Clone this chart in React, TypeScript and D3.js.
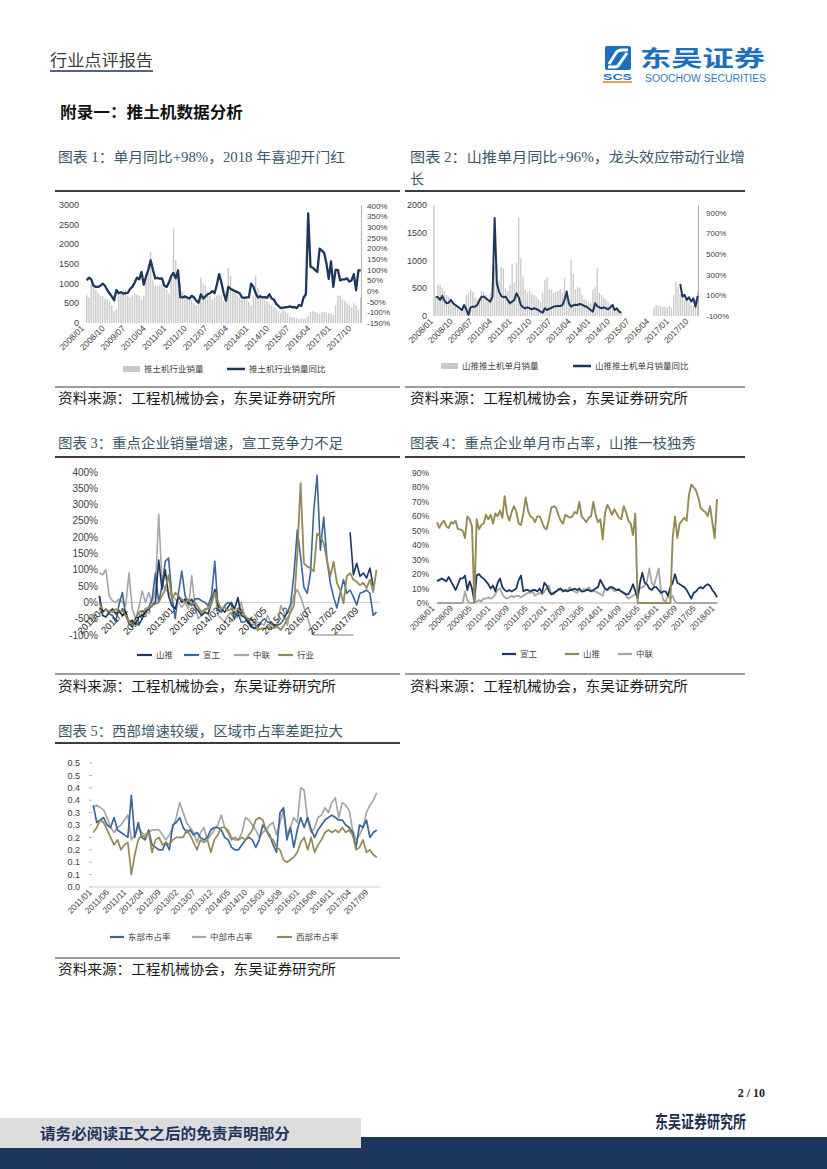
import React from "react";
import * as d3 from "d3";

const SERIF = "'Liberation Serif','Noto Sans CJK SC',serif";
const SANS = "'Liberation Sans','Noto Sans CJK SC',sans-serif";
const CJK = "'Noto Sans CJK SC','Liberation Sans',sans-serif";

function monthSeq(y0: number, m0: number, n: number): string[] {
  const out: string[] = [];
  for (let k = 0; k < n; k++) {
    const mm = ((m0 - 1 + k) % 12) + 1;
    const yy = y0 + Math.floor((m0 - 1 + k) / 12);
    out.push(`${yy}/${String(mm).padStart(2, "0")}`);
  }
  return out;
}

// ---------------- categories ----------------
const c1Months = monthSeq(2008, 1, 121);
const c2Months = monthSeq(2008, 1, 121);
const c3Months = monthSeq(2011, 1, 85);
const c4Months = monthSeq(2008, 1, 121);
const c5Months = monthSeq(2011, 1, 83);

// ---------------- tick labels ----------------
const c12XLabels = ["2008/01", "2008/10", "2009/07", "2010/04", "2011/01", "2011/10", "2012/07", "2013/04", "2014/01", "2014/10", "2015/07", "2016/04", "2017/01", "2017/10"];
const c3XLabels = ["2011/04", "2011/11", "2012/06", "2013/01", "2013/08", "2014/03", "2014/10", "2015/05", "2015/12", "2016/07", "2017/02", "2017/09"];
const c4XLabels = ["2008/01", "2008/09", "2009/05", "2010/01", "2010/09", "2011/05", "2012/01", "2012/09", "2013/05", "2014/01", "2014/09", "2015/05", "2016/01", "2016/09", "2017/05", "2018/01"];
const c5XLabels = ["2011/01", "2011/06", "2011/11", "2012/04", "2012/09", "2013/02", "2013/07", "2013/12", "2014/05", "2014/10", "2015/03", "2015/08", "2016/01", "2016/06", "2016/11", "2017/04", "2017/09"];
const c1LeftTicks = [0, 500, 1000, 1500, 2000, 2500, 3000];
const c1RightTicks = [-150, -100, -50, 0, 50, 100, 150, 200, 250, 300, 350, 400];
const c2LeftTicks = [0, 500, 1000, 1500, 2000];
const c2RightTicks = [-100, 100, 300, 500, 700, 900];
const c3Ticks = [-100, -50, 0, 50, 100, 150, 200, 250, 300, 350, 400];
const c4Ticks = [0, 10, 20, 30, 40, 50, 60, 70, 80, 90];
const c5Ticks = [0, 0.05, 0.1, 0.15, 0.2, 0.25, 0.3, 0.35, 0.4, 0.45, 0.5];
const c5TickText = ["0.0", "0.1", "0.1", "0.2", "0.2", "0.3", "0.3", "0.4", "0.4", "0.5", "0.5"];

// ---------------- chart 1 data ----------------
const c1Volume = [
  720, 650, 1000, 900, 850, 750, 700, 680, 620, 600, 550, 450,
  300, 350, 700, 800, 850, 850, 700, 650, 700, 750, 720, 700,
  600, 700, 1200, 1500, 1800, 1100, 950, 950, 950, 1000, 900, 850,
  750, 1200, 2400, 1600, 1200, 1000, 800, 700, 650, 650, 600, 500,
  450, 500, 1150, 1000, 950, 800, 700, 600, 650, 700, 700, 700,
  550, 800, 1400, 1200, 900, 800, 700, 650, 600, 650, 600, 550,
  450, 700, 1200, 900, 750, 650, 600, 550, 500, 450, 400, 350,
  300, 250, 350, 300, 250, 150, 150, 130, 120, 100, 110, 100,
  120, 180, 280, 300, 280, 250, 230, 280, 290, 270, 250, 240,
  200, 450, 700, 700, 600, 550, 500, 450, 400, 500, 450, 350,
  650,
];
const c1Yoy = [
  51, 63, 55, 25, 20, 20, 25, 35, 25, 5, -10, -25,
  -43, 5, -10, -5, -12, -10, -8, 10, 20, 40, 63, 55,
  90, 30, 70, 100, 145, 100, 60, 62, 58, 60, 25, 20,
  40, 70, 85, 60, 97, -28, -30, -25, -30, -35, -22, -30,
  -45, -55, -15, -35, -25, -15, -10, 0, -10, 30, 80, 40,
  -10, -45, 20, 10, 5, 0, -5, -10, -30, -32, -30, -30,
  35, 20, -10, -30, -25, -30, -28, -32, -15, -35, -40, -60,
  -70, -80, -78, -76, -75, -72, -76, -75, -80, -65, -70, -30,
  -15, 365, 115, 110, 100, 90, 200, 190, 180, 130, 58, 140,
  20, 100, 100, 50, 55, 55, 60, 45, 50, 80, 4, 97,
  98,
];

// ---------------- chart 2 data ----------------
const c2Volume: (number | null)[] = [
  350, 560, 560, 500, 460, 380, 350, 250, 200, 180, 130, 100,
  120, 150, 380, 420, 470, 430, 330, 300, 330, 450, 430, 380,
  330, 420, 600, 900, 950, 640, 880, 860, 500, 450, 560, 940,
  600, 950, 1780, 1040, 710, 470, 420, 450, 400, 380, 350, 300,
  250, 420, 650, 700, 480, 470, 420, 430, 450, 480, 420, 680,
  450, 300, 1020, 760, 480, 520, 500, 380, 300, 280, 250, 230,
  480, 520, 860, 420, 380, 330, 300, 250, 200, 170, 150, 120,
  100, 80, null, null, null, null, null, null, null, null, null, null,
  null, null, null, null, 150, 200, 170, 180, 160, 170, 155, 180,
  150, 380, 620, 520, 400, 350, 300, 280, 250, 200, 180, 300, 450,
];
const c2Yoy: (number | null)[] = [
  88, 82, 56, 95, 49, 23, 30, 56, 23, 7, -9, -25,
  -42, 7, -35, -90, -16, -9, -9, 7, 49, 88, 88, 72,
  56, 40, 88, 851, 218, 137, 95, 82, 88, 56, 23, 40,
  56, 121, 82, 7, -16, -25, -16, -25, -35, -25, -32, -42,
  -58, -68, -25, -42, -29, -22, -9, -6, -3, -3, 4, 56,
  137, 23, -9, 4, 10, 7, 17, 10, -3, -9, -25, -42,
  -58, 23, -3, -16, -25, -16, -25, -35, -16, 7, -42, -25,
  -58, -68, null, null, null, null, null, null, null, null, null, null,
  null, null, null, null, null, null, null, null, null, null, null, null,
  null, null, null, null, 212, 88, 105, 56, 82, 40, 72, -9, 95,
];

// ---------------- chart 3 data (YoY %) ----------------
const c3Shantui: (number | null)[] = [
  20, -40, -45, -30, -20, -35, -25, -40, -30, -60, -55, -65,
  -45, -40, -30, -20, -10, 0, 130, 40, 100, 20, -10, -20,
  20, 0, 10, -5, 10, -15, -25, -40, -30, -35, 0, 40,
  -10, -20, -30, -15, 0, -20, 15, -40, -45, -60, -75, -80,
  -70, -65, null, null, null, null, null, null, null, null, null, null,
  null, null, null, null, null, null, null, null, null, null, null, null,
  null, null, null, null, 215, 85, 120, 80, 90, 75, 105, 50, null,
];
const c3Xuangong: (number | null)[] = [
  20, -30, -20, -35, -40, -60, -5, 30, -40, -65, -75, -60,
  -70, -50, -30, -15, 10, 90, 0, 50, 126, 136, 20, -50,
  30, 96, 20, 0, -10, 10, 12, 5, 0, -10, 20, 126,
  -20, -30, -10, 0, -5, -50, -30, -60, -60, -50, -70, -80,
  -80, -60, -50, -60, -65, -70, -70, -65, -50, -30, -5, 90,
  222, 140, 47, 28, 90, 283, 390, 160, 262, 130, 60, 17,
  -17, 28, 70, 28, 38, 17, -8, 28, 32, 38, 28, -40, -30,
];
const c3Zoomlion: (number | null)[] = [
  90, 85, 100, 20, 5, 0, 10, 0, -10, 90, -20, -50,
  -15, 35, 0, 30, -5, 40, 270, 60, 40, 30, 20, 10,
  0, -15, 0, -20, 82, -10, -50, -40, -30, -10, 10, 30,
  -40, -50, -60, -40, -30, -40, -30, 0, -40, -60, -50, -70,
  -60, -65, -70, -40, -65, -75, -65, -10, -30, -70, -20, 20,
  40, 17, -14, -45, -75, -100, -100, -100, -100, -100, -100, -100,
  -100, -100, -100, -100, -100, -100, null, null, null, null, null, null, null,
];
const c3Industry: (number | null)[] = [
  0, -28, -23, -26, -30, -20, -30, -25, -40, -60, -68, -50,
  -30, -25, -30, -15, -10, -5, 0, 20, 40, 84, 10, 30,
  20, 10, 0, 10, -5, 0, -15, -30, -20, -20, -5, 30,
  0, -20, -15, -25, -20, -30, -25, -30, -40, -50, -50, -60,
  -85, -80, -80, -75, -80, -78, -75, -85, -70, -50, -30, -10,
  150, 366, 120, 110, 105, 95, 212, 202, 182, 130, 79, 125,
  60, 38, -3, 80, 90, 70, 63, 53, 60, 44, 70, 32, 100,
];

// ---------------- chart 4 data (share %) ----------------
const c4Xuangong = [
  15, 16, 17, 16, 15, 18, 15, 12, 9, 13, 17, 17,
  19, 9, 15, 10, 1, 19, 20, 18, 17, 15, 13, 10,
  12, 8, 14, 17, 11, 9, 8, 9, 8, 9, 10, 16,
  19, 8, 9, 9, 8, 9, 9, 8, 10, 7, 14, 12,
  8, 6, 7, 8, 9, 10, 8, 9, 8, 9, 9, 10,
  9, 10, 8, 8, 9, 9, 8, 9, 10, 11, 16, 13,
  10, 9, 11, 11, 10, 9, 9, 8, 7, 6, 6, 9,
  13, 8, 3, 14, 21, 14, 13, 10, 9, 11, 11, 9,
  7, 8, 8, 5, 11, 14, 20, 14, 13, 12, 11, 9,
  6, 3, 7, 8, 10, 11, 10, 12, 13, 12, 9, 7, 4,
];
const c4Shantui = [
  56, 52, 55, 57, 53, 52, 56, 55, 57, 51, 51, 50,
  45, 60, 58, 53, 1, 58, 51, 54, 55, 61, 58, 61,
  55, 62, 60, 64, 59, 74, 62, 57, 63, 67, 63, 55,
  54, 62, 73, 64, 60, 59, 56, 60, 60, 56, 52, 51,
  58, 66, 67, 66, 61, 57, 55, 61, 60, 59, 60, 63,
  62, 70, 60, 58, 56, 59, 60, 70, 61, 56, 58, 44,
  62, 68, 65, 61, 65, 62, 59, 58, 67, 63, 57, 55,
  47, 62, 0, 0, 0, 0, 0, 0, 0, 0, 0, 0,
  0, 0, 0, 0, 0, 45, 60, 45, 55, 57, 59, 57,
  75, 82, 80, 78, 73, 66, 64, 63, 60, 67, 56, 45, 72,
];
const c4Zoomlion = [
  0, 0, 0, 0, 0, 0, 0, 0, 0, 0, 0, 0,
  8, 2, 0, 0, 0, 1, 2, 1, 3, 3, 4, 3,
  4, 6, 9, 10, 6, 4, 3, 4, 5, 4, 5, 5,
  4, 5, 6, 7, 7, 8, 5, 6, 7, 6, 8, 10,
  12, 6, 6, 8, 10, 9, 9, 8, 9, 11, 9, 8,
  7, 9, 8, 10, 9, 11, 9, 8, 8, 7, 6, 5,
  10, 9, 10, 10, 8, 9, 10, 8, 7, 5, 3, 4,
  5, 6, 8, 10, 11, 12, 15, 24, 14, 12, 18, 24,
  8, 2, 1, 5, 3, 5, 1, 0, 0, 0, 0, 0,
  0, 0, 0, 0, 0, 0, 0, 0, 0, 0, 0, 0, 0,
];

// ---------------- chart 5 data (regional share) ----------------
const c5East = [
  0.33, 0.26, 0.27, 0.28, 0.25, 0.24, 0.28, 0.23, 0.22, 0.21, 0.20, 0.37,
  0.20, 0.26, 0.20, 0.19, 0.23, 0.17, 0.16, 0.15, 0.15, 0.18, 0.15, 0.25,
  0.26, 0.28, 0.24, 0.22, 0.23, 0.21, 0.22, 0.20, 0.19, 0.20, 0.23, 0.24,
  0.24, 0.23, 0.20, 0.19, 0.16, 0.15, 0.15, 0.17, 0.19, 0.20, 0.19, 0.16,
  0.19, 0.25, 0.23, 0.21, 0.17, 0.14, 0.30, 0.32, 0.19, 0.24, 0.16, 0.23,
  0.28, 0.24, 0.28, 0.23, 0.20, 0.23, 0.25, 0.27, 0.28, 0.29, 0.28, 0.27,
  0.27, 0.25, 0.24, 0.22, 0.16, 0.25, 0.24, 0.27, 0.20, 0.22, 0.23,
];
const c5Central = [
  0.32, 0.33, 0.32, 0.31, 0.28, 0.24, 0.22, 0.24, 0.25, 0.27, 0.29, 0.19,
  0.21, 0.24, 0.22, 0.21, 0.22, 0.23, 0.23, 0.23, 0.21, 0.19, 0.21, 0.24,
  0.28, 0.34, 0.30, 0.26, 0.24, 0.22, 0.18, 0.22, 0.24, 0.19, 0.21, 0.23,
  0.25, 0.29, 0.24, 0.23, 0.20, 0.19, 0.19, 0.22, 0.28, 0.27, 0.25, 0.23,
  0.20, 0.22, 0.23, 0.25, 0.26, 0.21, 0.26, 0.31, 0.21, 0.24, 0.28, 0.26,
  0.40, 0.39, 0.27, 0.22, 0.24, 0.28, 0.29, 0.32, 0.30, 0.34, 0.36, 0.28,
  0.34, 0.33, 0.31, 0.23, 0.19, 0.21, 0.24, 0.30, 0.33, 0.35, 0.38,
];
const c5West = [
  0.22, 0.24, 0.27, 0.26, 0.23, 0.20, 0.17, 0.19, 0.15, 0.17, 0.18, 0.05,
  0.13, 0.19, 0.21, 0.20, 0.22, 0.14, 0.19, 0.20, 0.17, 0.18, 0.17, 0.19,
  0.20, 0.20, 0.20, 0.23, 0.21, 0.18, 0.15, 0.19, 0.18, 0.19, 0.14, 0.19,
  0.21, 0.24, 0.24, 0.22, 0.19, 0.20, 0.19, 0.20, 0.19, 0.21, 0.23, 0.27,
  0.28, 0.27, 0.23, 0.20, 0.19, 0.16, 0.15, 0.11, 0.10, 0.11, 0.12, 0.14,
  0.18, 0.20, 0.15, 0.20, 0.14, 0.17, 0.19, 0.22, 0.23, 0.22, 0.23, 0.22,
  0.24, 0.22, 0.23, 0.21, 0.15, 0.16, 0.19, 0.14, 0.15, 0.13, 0.12,
];

// ---------------- colours ----------------
const NAVY = "#1C375E";
const BLUE = "#3A6698";
const GRAY = "#A6A6A6";
const OLIVE = "#958A55";
const BAR = "#C9C9C9";
const TITLE = "#3A5869";
const AXTXT = "#404040";

type Num = number | null;

function linePath(data: Num[], xf: (i: number) => number, yf: (v: number) => number) {
  const gen = d3
    .line<Num>()
    .defined((d) => d != null)
    .x((_d, i) => xf(i))
    .y((d) => yf(d as number));
  return gen(data) || "";
}

function RotLabels(props: { labels: string[]; xOf: (l: string) => number; y: number; dx?: number; size?: number; fill?: string }) {
  const { labels, xOf, y, dx = -2, size = 8.5, fill = AXTXT } = props;
  return (
    <g fontFamily={SANS} fontSize={size} fill={fill}>
      {labels.map((l) => (
        <text key={l} transform={`translate(${xOf(l) + dx},${y}) rotate(-45)`} textAnchor="end">
          {l}
        </text>
      ))}
    </g>
  );
}

function LegendLine(p: { x: number; y: number; color: string; label: string; w?: number; sw?: number }) {
  const w = p.w ?? 16;
  return (
    <g>
      <line x1={p.x} x2={p.x + w} y1={p.y} y2={p.y} stroke={p.color} strokeWidth={p.sw ?? 2.2} />
      <text x={p.x + w + 4} y={p.y} dy="0.35em" fontFamily={CJK} fontSize={8.5} fill={AXTXT}>
        {p.label}
      </text>
    </g>
  );
}

function LegendBox(p: { x: number; y: number; color: string; label: string }) {
  return (
    <g>
      <rect x={p.x} y={p.y - 3} width={17} height={6} fill={p.color} />
      <text x={p.x + 21} y={p.y} dy="0.35em" fontFamily={CJK} fontSize={8.5} fill={AXTXT}>
        {p.label}
      </text>
    </g>
  );
}

function Chart1() {
  const x = d3.scalePoint<string>().domain(c1Months).range([86.7, 360.7]);
  const yL = d3.scaleLinear().domain([0, 3000]).range([323, 205]);
  const yR = d3.scaleLinear().domain([-150, 400]).range([323, 206]);
  const bw = x.step() * 0.62;
  return (
    <g>
      {c1Volume.map((v, i) => (
        <rect key={i} x={x(c1Months[i])! - bw / 2} y={yL(v)} width={bw} height={yL(0) - yL(v)} fill={BAR} />
      ))}
      <line x1={361.5} x2={361.5} y1={205} y2={323} stroke="#A0A0A0" strokeWidth={0.8} />
      <path d={linePath(c1Yoy, (i) => x(c1Months[i])!, yR)} fill="none" stroke={NAVY} strokeWidth={2.3} strokeLinejoin="round" />
      <g fontFamily={SANS} fontSize={9} fill={AXTXT}>
        {c1LeftTicks.map((t) => (
          <text key={t} x={79} y={yL(t)} dy="0.35em" textAnchor="end">
            {t}
          </text>
        ))}
      </g>
      <g fontFamily={SANS} fontSize={8} fill={AXTXT}>
        {c1RightTicks.map((t) => (
          <text key={t} x={367} y={yR(t)} dy="0.35em">
            {t}%
          </text>
        ))}
      </g>
      <RotLabels labels={c12XLabels} xOf={(l) => x(l)!} y={329} dx={-2} />
      <LegendBox x={123} y={369} color={BAR} label="推土机行业销量" />
      <LegendLine x={227} y={369} color={NAVY} label="推土机行业销量同比" w={18} sw={2.5} />
    </g>
  );
}

function Chart2() {
  const x = d3.scalePoint<string>().domain(c2Months).range([435.7, 697.7]);
  const yL = d3.scaleLinear().domain([0, 2000]).range([316, 205]);
  const yR = d3.scaleLinear().domain([-100, 1000]).range([316, 202.7]);
  const bw = x.step() * 0.62;
  return (
    <g>
      {c2Volume.map((v, i) =>
        v == null ? null : (
          <rect key={i} x={x(c2Months[i])! - bw / 2} y={yL(v)} width={bw} height={yL(0) - yL(v)} fill={BAR} />
        )
      )}
      <line x1={434} x2={434} y1={205} y2={316} stroke="#A0A0A0" strokeWidth={0.8} />
      <line x1={698.5} x2={698.5} y1={205} y2={316} stroke="#A0A0A0" strokeWidth={0.8} />
      <path d={linePath(c2Yoy, (i) => x(c2Months[i])!, yR)} fill="none" stroke={NAVY} strokeWidth={2} strokeLinejoin="round" />
      <g fontFamily={SANS} fontSize={9} fill={AXTXT}>
        {c2LeftTicks.map((t) => (
          <text key={t} x={427} y={yL(t)} dy="0.35em" textAnchor="end">
            {t}
          </text>
        ))}
      </g>
      <g fontFamily={SANS} fontSize={8} fill={AXTXT}>
        {c2RightTicks.map((t) => (
          <text key={t} x={706} y={yR(t)} dy="0.35em">
            {t}%
          </text>
        ))}
      </g>
      <RotLabels labels={c12XLabels} xOf={(l) => x(l)!} y={322} dx={-2} />
      <LegendBox x={441} y={366} color={BAR} label="山推推土机单月销量" />
      <LegendLine x={573} y={366} color={NAVY} label="山推推土机单月销量同比" w={18} sw={2.5} />
    </g>
  );
}

function Chart3() {
  const x = d3.scalePoint<string>().domain(c3Months).range([99.3, 376.5]);
  const y = d3.scaleLinear().domain([-100, 400]).range([635, 472]);
  const xf = (i: number) => x(c3Months[i])!;
  return (
    <g>
      <line x1={99} x2={380} y1={y(0)} y2={y(0)} stroke="#BFBFBF" strokeWidth={0.8} />
      <g fontFamily={SANS} fontSize={10} fill={AXTXT}>
        {c3Ticks.map((t) => (
          <text key={t} x={98} y={y(t)} dy="0.35em" textAnchor="end">
            {t}%
          </text>
        ))}
      </g>
      <path d={linePath(c3Zoomlion, xf, y)} fill="none" stroke={GRAY} strokeWidth={1.6} strokeLinejoin="round" />
      <path d={linePath(c3Xuangong, xf, y)} fill="none" stroke={BLUE} strokeWidth={1.6} strokeLinejoin="round" />
      <path d={linePath(c3Shantui, xf, y)} fill="none" stroke={NAVY} strokeWidth={1.6} strokeLinejoin="round" />
      <path d={linePath(c3Industry, xf, y)} fill="none" stroke={OLIVE} strokeWidth={1.8} strokeLinejoin="round" />
      <RotLabels labels={c3XLabels} xOf={(l) => x(l)!} y={611} dx={-4} size={9.5} fill="#1A1A1A" />
      <LegendLine x={137} y={655} color={NAVY} label="山推" w={15} sw={2.2} />
      <LegendLine x={184} y={655} color={BLUE} label="宣工" w={15} sw={2.2} />
      <LegendLine x={234} y={655} color={GRAY} label="中联" w={15} sw={2.2} />
      <LegendLine x={278} y={655} color={OLIVE} label="行业" w={15} sw={2.2} />
    </g>
  );
}

function Chart4() {
  const x = d3.scalePoint<string>().domain(c4Months).range([437, 717]);
  const y = d3.scaleLinear().domain([0, 90]).range([603, 473]);
  const xf = (i: number) => x(c4Months[i])!;
  return (
    <g>
      <line x1={437} x2={718} y1={603} y2={603} stroke="#A0A0A0" strokeWidth={0.8} />
      <g fontFamily={SANS} fontSize={8.5} fill={AXTXT}>
        {c4Ticks.map((t) => (
          <text key={t} x={429} y={y(t)} dy="0.35em" textAnchor="end">
            {t}%
          </text>
        ))}
      </g>
      <path d={linePath(c4Zoomlion, xf, y)} fill="none" stroke={GRAY} strokeWidth={1.8} strokeLinejoin="round" />
      <path d={linePath(c4Xuangong, xf, y)} fill="none" stroke={NAVY} strokeWidth={1.8} strokeLinejoin="round" />
      <path d={linePath(c4Shantui, xf, y)} fill="none" stroke={OLIVE} strokeWidth={1.9} strokeLinejoin="round" />
      <RotLabels labels={c4XLabels} xOf={(l) => x(l)!} y={609} dx={-2} size={8.5} />
      <LegendLine x={502} y={654} color={NAVY} label="宣工" w={14} sw={2.2} />
      <LegendLine x={565} y={654} color={OLIVE} label="山推" w={14} sw={2.2} />
      <LegendLine x={618} y={654} color={GRAY} label="中联" w={14} sw={2.2} />
    </g>
  );
}

function Chart5() {
  const x = d3.scalePoint<string>().domain(c5Months).range([93.3, 376.8]);
  const y = d3.scaleLinear().domain([0, 0.5]).range([887, 763]);
  const xf = (i: number) => x(c5Months[i])!;
  return (
    <g>
      <line x1={92} x2={380} y1={887} y2={887} stroke="#BFBFBF" strokeWidth={0.8} />
      {c5Ticks.map((t) => (
        <line key={t} x1={89} x2={92} y1={y(t)} y2={y(t)} stroke="#A0A0A0" strokeWidth={0.8} />
      ))}
      <g fontFamily={SANS} fontSize={9} fill={AXTXT}>
        {c5Ticks.map((t, k) => (
          <text key={t} x={80} y={y(t)} dy="0.35em" textAnchor="end">
            {c5TickText[k]}
          </text>
        ))}
      </g>
      <path d={linePath(c5Central, xf, y)} fill="none" stroke={GRAY} strokeWidth={1.7} strokeLinejoin="round" />
      <path d={linePath(c5East, xf, y)} fill="none" stroke={BLUE} strokeWidth={1.7} strokeLinejoin="round" />
      <path d={linePath(c5West, xf, y)} fill="none" stroke={OLIVE} strokeWidth={1.7} strokeLinejoin="round" />
      <RotLabels labels={c5XLabels} xOf={(l) => x(l)!} y={893} dx={-1} size={8.5} />
      <LegendLine x={110} y={937} color={BLUE} label="东部市占率" w={14} sw={2.2} />
      <LegendLine x={192} y={937} color={GRAY} label="中部市占率" w={14} sw={2.2} />
      <LegendLine x={277} y={937} color={OLIVE} label="西部市占率" w={15} sw={2.2} />
    </g>
  );
}

function TitleText(p: { x: number; y: number; text: string; len?: number }) {
  return (
    <text x={p.x} y={p.y} fontFamily={SERIF} fontSize={14} fill={TITLE} textLength={p.len} lengthAdjust="spacingAndGlyphs">
      {p.text}
    </text>
  );
}

function SourceText(p: { x: number; y: number }) {
  return (
    <text x={p.x} y={p.y} fontFamily={SERIF} fontSize={13.5} fill="#1A1A1A" textLength={278} lengthAdjust="spacingAndGlyphs">
      资料来源：工程机械协会，东吴证券研究所
    </text>
  );
}

export default function App() {
  return (
    <svg width={827} height={1169} viewBox="0 0 827 1169" style={{ position: "absolute", left: 0, top: 0, display: "block", background: "#fff" }}>
      <rect x={0} y={0} width={827} height={1169} fill="#fff" />
      {/* header */}
      <text x={50} y={66} fontFamily={CJK} fontSize={15.5} fill="#3A3A3A" textLength={103} lengthAdjust="spacingAndGlyphs">
        行业点评报告
      </text>
      <line x1={50} x2={153} y1={71} y2={71} stroke="#56657F" strokeWidth={2} />
      {/* logo */}
      <rect x={605} y={46} width={26} height={24} rx={2} fill="#1F6FBF" />
      <path d="M 609 64 L 616 53 Q 618 50 622 50 L 628 50" fill="none" stroke="#fff" strokeWidth={3} />
      <path d="M 608 67 L 615 67 Q 618 67 620 63 L 627 53" fill="none" stroke="#fff" strokeWidth={3} />
      <text x={603} y={80} fontFamily={SANS} fontWeight={700} fontSize={9.5} fill="#1F6FBF" textLength={29} lengthAdjust="spacingAndGlyphs">
        SCS
      </text>
      <rect x={603} y={81} width={29} height={2} fill="#F0A040" />
      <text x={640} y={65.5} fontFamily={CJK} fontWeight={700} fontSize={22} fill="#1F6FBF" textLength={125} lengthAdjust="spacingAndGlyphs">
        东吴证券
      </text>
      <text x={645} y={81.5} fontFamily={SANS} fontSize={10} fill="#2E7CC4" textLength={121} lengthAdjust="spacingAndGlyphs">
        SOOCHOW SECURITIES
      </text>
      <text x={60} y={118} fontFamily={CJK} fontWeight={700} fontSize={15.5} fill="#111" textLength={183} lengthAdjust="spacingAndGlyphs">
        附录一：推土机数据分析
      </text>

      {/* row 1 */}
      <TitleText x={58} y={162} text="图表 1：单月同比+98%，2018 年喜迎开门红" len={287} />
      <TitleText x={410} y={162} text="图表 2：山推单月同比+96%，龙头效应带动行业增" len={335} />
      <TitleText x={410} y={184} text="长" />
      <line x1={55} x2={400} y1={191} y2={191} stroke="#3A3A3A" strokeWidth={2.2} />
      <line x1={405} x2={745} y1={191} y2={191} stroke="#3A3A3A" strokeWidth={2.2} />
      <Chart1 />
      <Chart2 />
      <line x1={55} x2={400} y1={387} y2={387} stroke="#3A3A3A" strokeWidth={1.2} />
      <line x1={405} x2={745} y1={387} y2={387} stroke="#3A3A3A" strokeWidth={1.2} />
      <SourceText x={58} y={403} />
      <SourceText x={410} y={403} />

      {/* row 2 */}
      <TitleText x={58} y={448} text="图表 3：重点企业销量增速，宣工竞争力不足" len={285} />
      <TitleText x={410} y={448} text="图表 4：重点企业单月市占率，山推一枝独秀" len={286} />
      <line x1={55} x2={400} y1={457} y2={457} stroke="#3A3A3A" strokeWidth={2.2} />
      <line x1={405} x2={745} y1={457} y2={457} stroke="#3A3A3A" strokeWidth={2.2} />
      <Chart3 />
      <Chart4 />
      <line x1={55} x2={400} y1={674} y2={674} stroke="#3A3A3A" strokeWidth={1.2} />
      <line x1={405} x2={745} y1={674} y2={674} stroke="#3A3A3A" strokeWidth={1.2} />
      <SourceText x={58} y={691} />
      <SourceText x={410} y={691} />

      {/* row 3 */}
      <TitleText x={58} y={736} text="图表 5：西部增速较缓，区域市占率差距拉大" len={285} />
      <line x1={55} x2={400} y1={743} y2={743} stroke="#3A3A3A" strokeWidth={2.2} />
      <Chart5 />
      <line x1={55} x2={400} y1={958} y2={958} stroke="#3A3A3A" strokeWidth={1.2} />
      <SourceText x={58} y={974} />

      {/* footer */}
      <text x={765} y={1097} fontFamily={SERIF} fontWeight={700} fontSize={12} fill="#222" textAnchor="end">
        2 / 10
      </text>
      <text x={655} y={1128} fontFamily={CJK} fontWeight={700} fontSize={17} fill="#1E2F52" textLength={91} lengthAdjust="spacingAndGlyphs">
        东吴证券研究所
      </text>
      <rect x={0} y={1137} width={827} height={32} fill="#1B365D" />
      <rect x={0} y={1118} width={361} height={30} fill="#DCDCDC" />
      <text x={40} y={1139} fontFamily={CJK} fontWeight={700} fontSize={15} fill="#1B3560" textLength={250} lengthAdjust="spacingAndGlyphs">
        请务必阅读正文之后的免责声明部分
      </text>
    </svg>
  );
}
